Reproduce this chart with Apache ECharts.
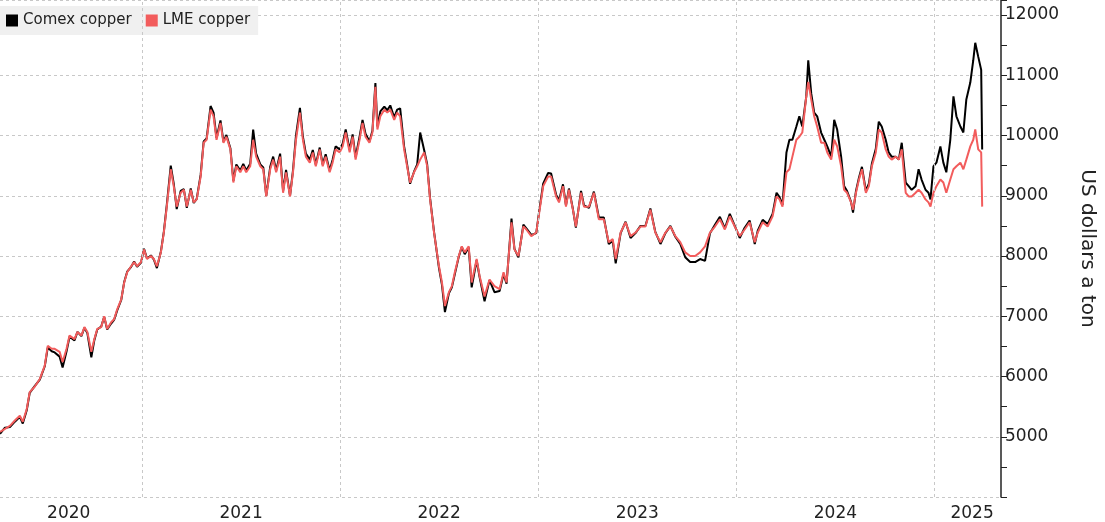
<!DOCTYPE html>
<html><head><meta charset="utf-8">
<script src="https://cdn.jsdelivr.net/npm/echarts@6/dist/echarts.min.js"></script>
<style>html,body{margin:0;padding:0;background:#fff}#c{width:1105px;height:522px}</style>
</head><body><div id="c"></div>
<script>
const seriesNames = ['Comex copper', 'LME copper'];
const yearLabels = [2020.63, 2021.5, 2022.5, 2023.5, 2024.5, 2025.19];
const yearStarts = [2021, 2022, 2023, 2024, 2025];
const dates = [
2020.283,2020.308,2020.333,2020.358,2020.383,2020.398,2020.418,2020.433,2020.458,2020.484,
2020.509,2020.524,2020.544,2020.559,2020.584,2020.599,2020.619,2020.634,2020.659,2020.674,
2020.694,2020.709,2020.724,2020.744,2020.759,2020.774,2020.794,2020.809,2020.824,2020.844,
2020.859,2020.875,2020.895,2020.910,2020.925,2020.945,2020.960,2020.975,2020.995,2021.010,
2021.025,2021.045,2021.060,2021.075,2021.095,2021.110,2021.125,2021.145,2021.160,2021.175,
2021.195,2021.211,2021.226,2021.246,2021.261,2021.276,2021.296,2021.311,2021.326,2021.346,
2021.361,2021.376,2021.396,2021.411,2021.426,2021.446,2021.461,2021.476,2021.496,2021.511,
2021.526,2021.546,2021.561,2021.576,2021.597,2021.612,2021.627,2021.647,2021.662,2021.677,
2021.697,2021.712,2021.727,2021.747,2021.762,2021.777,2021.797,2021.812,2021.827,2021.847,
2021.862,2021.877,2021.897,2021.912,2021.927,2021.947,2021.962,2021.977,2021.998,2022.013,
2022.028,2022.048,2022.063,2022.078,2022.098,2022.113,2022.128,2022.148,2022.163,2022.178,
2022.188,2022.203,2022.223,2022.238,2022.253,2022.273,2022.288,2022.303,2022.323,2022.338,
2022.353,2022.373,2022.389,2022.404,2022.424,2022.439,2022.454,2022.474,2022.499,2022.514,
2022.529,2022.549,2022.564,2022.579,2022.599,2022.614,2022.629,2022.649,2022.664,2022.689,
2022.704,2022.729,2022.754,2022.779,2022.805,2022.825,2022.840,2022.855,2022.865,2022.880,
2022.900,2022.925,2022.940,2022.965,2022.990,2023.005,2023.025,2023.050,2023.065,2023.090,
2023.105,2023.125,2023.140,2023.155,2023.175,2023.190,2023.216,2023.231,2023.256,2023.281,
2023.306,2023.331,2023.356,2023.376,2023.391,2023.416,2023.441,2023.466,2023.491,2023.516,
2023.541,2023.566,2023.591,2023.617,2023.642,2023.667,2023.692,2023.717,2023.742,2023.767,
2023.792,2023.817,2023.842,2023.867,2023.892,2023.917,2023.942,2023.967,2023.992,2024.017,
2024.042,2024.067,2024.093,2024.108,2024.133,2024.158,2024.183,2024.203,2024.218,2024.233,
2024.253,2024.268,2024.283,2024.303,2024.318,2024.333,2024.353,2024.363,2024.378,2024.393,
2024.408,2024.428,2024.444,2024.459,2024.479,2024.494,2024.509,2024.529,2024.544,2024.559,
2024.579,2024.589,2024.604,2024.619,2024.634,2024.654,2024.669,2024.684,2024.704,2024.719,
2024.734,2024.754,2024.769,2024.784,2024.805,2024.820,2024.835,2024.855,2024.870,2024.885,
2024.905,2024.920,2024.935,2024.955,2024.970,2024.980,2024.995,2025.010,2025.030,2025.045,
2025.060,2025.080,2025.096,2025.111,2025.131,2025.146,2025.161,2025.181,2025.196,2025.206,
2025.221,2025.236,2025.241];
const lme = [
5080,5130,5180,5270,5350,5250,5460,5740,5830,5960,
6180,6510,6460,6460,6410,6240,6460,6680,6620,6740,
6680,6820,6740,6410,6620,6790,6820,7000,6790,6900,
6950,7120,7280,7560,7730,7830,7900,7830,7900,8110,
7950,8000,7950,7830,8060,8390,8820,9440,9160,8820,
9050,9100,8820,9100,8890,8940,9320,9880,9930,10430,
10320,9930,10210,9880,9980,9770,9220,9490,9390,9490,
9390,9490,9930,9650,9490,9440,8990,9440,9600,9390,
9650,9050,9390,8990,9390,9930,10380,9930,9650,9550,
9720,9490,9770,9490,9650,9390,9550,9770,9720,9820,
10050,9720,9980,9600,9930,10210,9980,9880,10050,10810,
10100,10320,10430,10380,10430,10260,10380,10320,9770,9490,
9220,9390,9490,9600,9720,9500,8940,8390,7830,7560,
7170,7400,7500,7730,8000,8160,8060,8160,7560,7950,
7670,7330,7610,7500,7450,7730,7560,8160,8560,8110,
8000,8490,8440,8330,8390,8720,9160,9320,9320,8990,
8890,9160,8820,9100,8770,8490,9050,8820,8820,9050,
8610,8610,8230,8280,7950,8390,8560,8330,8390,8490,
8490,8770,8390,8230,8390,8490,8330,8230,8060,8000,
8000,8060,8160,8390,8490,8610,8440,8660,8490,8330,
8440,8560,8230,8390,8560,8490,8660,8990,8940,8820,
9390,9440,9650,9930,9980,10050,10650,10890,10600,10320,
10150,9880,9880,9720,9600,9930,9820,9490,9100,9050,
8890,8770,9050,9270,9440,9050,9160,9490,9720,10100,
10050,9770,9650,9600,9650,9600,9770,9050,8990,8990,
9050,9100,9050,8940,8890,8820,9050,9160,9270,9220,
9050,9270,9440,9490,9550,9440,9600,9820,9930,10100,
9770,9720,8820];
const comex = [
5050,5150,5160,5250,5330,5220,5440,5730,5840,5950,
6170,6480,6420,6400,6330,6150,6420,6660,6600,6740,
6670,6810,6720,6320,6600,6780,6830,6990,6780,6880,
6940,7100,7270,7570,7740,7820,7910,7820,7890,8120,
7960,8010,7940,7800,8070,8400,8850,9500,9200,8780,
9080,9110,8800,9120,8880,8950,9350,9900,9950,10490,
10380,9960,10250,9900,10010,9790,9250,9520,9420,9530,
9420,9530,10100,9700,9520,9470,9000,9480,9650,9420,
9700,9080,9430,9000,9420,10000,10460,9980,9700,9600,
9760,9520,9800,9520,9690,9420,9600,9820,9770,9870,
10100,9760,10020,9640,9980,10260,10030,9900,10080,10870,
10150,10400,10480,10420,10500,10300,10430,10450,9820,9520,
9200,9400,9520,10050,9760,9530,8960,8400,7800,7520,
7070,7380,7480,7700,7990,8150,8030,8140,7480,7930,
7650,7250,7600,7400,7420,7700,7540,8180,8620,8120,
7980,8520,8460,8350,8380,8750,9200,9380,9370,9020,
8920,9190,8840,9120,8780,8470,9080,8840,8800,9070,
8640,8640,8200,8250,7880,8380,8570,8300,8380,8500,
8500,8790,8400,8200,8380,8500,8320,8200,7980,7900,
7900,7950,7920,8380,8520,8650,8460,8700,8500,8300,
8470,8590,8200,8420,8600,8530,8700,9050,8980,8850,
9720,9930,9930,10150,10320,10150,10650,11250,10700,10380,
10320,10050,9930,9820,9650,10260,10100,9650,9160,9080,
8900,8720,9080,9300,9480,9080,9200,9530,9780,10230,
10150,9930,9720,9650,9650,9600,9880,9220,9160,9100,
9160,9440,9270,9100,9050,8940,9490,9550,9820,9550,
9390,9930,10650,10320,10150,10050,10600,10880,11250,11540,
11310,11090,9770];

const chart = echarts.init(document.getElementById('c'));
const font = '"DejaVu Sans", Verdana, sans-serif';
const X_MIN = 2020.283, X_MAX = 2025.336;
chart.setOption({
  animation: false,
  textStyle: {fontFamily: font},
  legend: {
    left: 0, top: 6, padding: [7, 8, 7, 6], itemGap: 14,
    backgroundColor: '#f0f0f0', borderRadius: 0,
    itemWidth: 12, itemHeight: 12, icon: 'rect',
    textStyle: {fontSize: 15, color: '#222', fontFamily: font},
    data: seriesNames
  },
  grid: {left: 0, right: 97, top: 0, bottom: 24},
  xAxis: {
    type: 'value', min: X_MIN, max: X_MAX,
    axisLine: {show: false}, axisTick: {show: false}, splitLine: {show: false},
    axisLabel: {customValues: yearLabels, formatter: v => String(Math.floor(v)),
      fontSize: 17, color: '#222', margin: 8, fontFamily: font}
  },
  yAxis: {
    type: 'value', position: 'right', min: 4000, max: 12250, interval: 1000,
    name: 'US dollars a ton', nameLocation: 'middle', nameRotate: -90, nameGap: 76,
    nameTextStyle: {fontSize: 20, color: '#222', fontFamily: font},
    axisLine: {show: true, lineStyle: {color: '#222', width: 1.5}},
    axisTick: {show: true, length: 6, lineStyle: {color: '#222'}},
    minorTick: {show: true, splitNumber: 2, length: 6, lineStyle: {color: '#222'}},
    axisLabel: {fontSize: 17, color: '#222', margin: 4, fontFamily: font,
      formatter: v => (v === 4000 ? '' : String(v))},
    splitLine: {show: true, lineStyle: {color: '#c8c8c8', type: [3, 3], width: 1}}
  },
  series: [{
    name: seriesNames[0], type: 'line', symbol: 'none',
    data: dates.map((d, i) => [d, comex[i]]),
    lineStyle: {color: '#000', width: 2}, itemStyle: {color: '#000'},
    markLine: {
      silent: true, symbol: ['none', 'none'], label: {show: false}, animation: false,
      lineStyle: {color: '#c8c8c8', type: [3, 3], width: 1},
      emphasis: {disabled: true},
      data: yearStarts.map(y => ({xAxis: y}))
    }
  }, {
    name: seriesNames[1], type: 'line', symbol: 'none',
    data: dates.map((d, i) => [d, lme[i]]),
    lineStyle: {color: '#f25c5c', width: 2}, itemStyle: {color: '#f25c5c'}
  }]
});
</script></body></html>
